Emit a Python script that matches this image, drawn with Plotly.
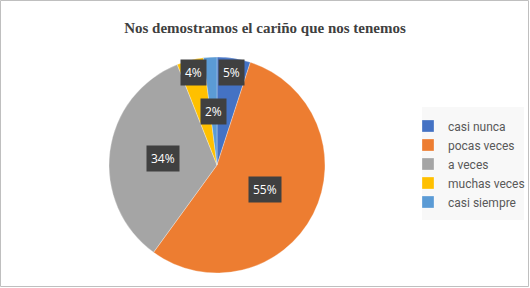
import math
import plotly.graph_objects as go

categories = ["casi nunca", "pocas veces", "a veces", "muchas veces", "casi siempre"]
values = [5, 55, 34, 4, 2]
colors = ["#4472C4", "#ED7D31", "#A5A5A5", "#FFC000", "#5B9BD5"]
label_radius = [0.87, 0.5, 0.5, 0.88, 0.5]
title = "Nos demostramos el cariño que nos tenemos"

W, H = 530, 288
cx, cy, R = 217, 165, 108

fig = go.Figure()
fig.add_trace(go.Pie(
    labels=categories, values=values, sort=False, direction="clockwise",
    rotation=0, marker=dict(colors=colors, line=dict(color="rgba(255,255,255,0.6)", width=0.5)),
    textinfo="none", hoverinfo="label+percent",
    domain=dict(x=[(cx - R) / W, (cx + R) / W], y=[(H - cy - R) / H, (H - cy + R) / H]),
))

total = sum(values)
cum = 0
for v, rf in zip(values, label_radius):
    mid = (cum + v / 2) / total * 2 * math.pi
    cum += v
    px = cx + rf * R * math.sin(mid)
    py = cy - rf * R * math.cos(mid)
    fig.add_annotation(
        x=px / W, y=1 - py / H, xref="paper", yref="paper", xanchor="center", yanchor="middle",
        text=f"{round(v / total * 100)}%", showarrow=False,
        font=dict(family="Open Sans, sans-serif", size=12, color="white"),
        bgcolor="#404040", borderpad=4,
    )

# chart border and legend background
fig.add_shape(type="rect", xref="paper", yref="paper", x0=0.5 / W, y0=1.5 / H, x1=528.5 / W, y1=1 - 0.5 / H,
              line=dict(color="#BFBFBF", width=1))
fig.add_shape(type="rect", xref="paper", yref="paper", x0=422 / W, y0=1 - 220 / H, x1=524 / W, y1=1 - 107 / H,
              fillcolor="#F8F8F8", line=dict(width=0), layer="below")

fig.update_layout(
    width=W, height=H, margin=dict(l=0, r=0, t=0, b=0, autoexpand=False),
    paper_bgcolor="white", plot_bgcolor="white",
    title=dict(text=f"<b>{title}</b>", x=0.5, xanchor="center", y=1 - 28 / H, yanchor="middle",
               font=dict(family="Liberation Serif, Times New Roman, serif", size=15, color="#404040")),
    legend=dict(x=408 / W, y=1 - 164 / H, xanchor="left", yanchor="middle",
                bgcolor="rgba(0,0,0,0)", font=dict(family="Roboto, sans-serif", size=12, color="#595959"),
                itemwidth=30),
    showlegend=True,
)

fig.write_html("out.html", config={"displayModeBar": False},
               post_script="document.body.style.margin='0';")
